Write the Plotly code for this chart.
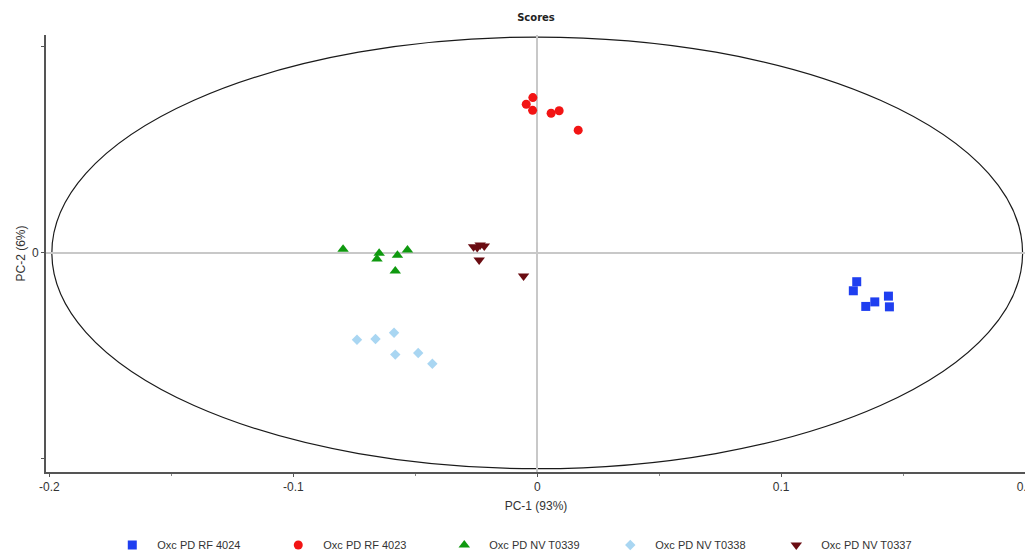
import plotly.graph_objects as go

# ---- data ----
series_names = ["Oxc PD RF 4024", "Oxc PD RF 4023", "Oxc PD NV T0339", "Oxc PD NV T0338", "Oxc PD NV T0337"]

rf4024_x = [0.1310, 0.1296, 0.1347, 0.1384, 0.1440, 0.1444]
rf4024_y = [-0.0070, -0.0092, -0.0130, -0.0119, -0.0105, -0.0131]

rf4023_x = [-0.0018, -0.0045, -0.0019, 0.0057, 0.0090, 0.0168]
rf4023_y = [0.0377, 0.0361, 0.0346, 0.0339, 0.0345, 0.0298]

t0339_x = [-0.0796, -0.0648, -0.0657, -0.0573, -0.0532, -0.0582]
t0339_y = [0.0009, -0.0001, -0.0015, -0.0006, 0.0007, -0.0044]

t0338_x = [-0.0739, -0.0663, -0.0587, -0.0582, -0.0488, -0.0430]
t0338_y = [-0.0211, -0.0209, -0.0194, -0.0247, -0.0243, -0.0269]

t0337_x = [-0.0261, -0.0246, -0.0234, -0.0217, -0.0238, -0.0056]
t0337_y = [0.0015, 0.0013, 0.0019, 0.0017, -0.0017, -0.0056]

x_ticks = [-0.2, -0.1, 0, 0.1, 0.2]
x_ticktext = ["-0.2", "-0.1", "0", "0.1", "0.2"]
y_ticks = [-0.05, 0, 0.05]
y_ticktext = ["", "0", ""]

ellipse_a = 0.199   # PC-1 semi-axis of Hotelling T2 ellipse
ellipse_b = 0.0524  # PC-2 semi-axis

colors = ["#1f3ff0", "#f21414", "#0f990f", "#a9d6f2", "#6a0c12"]
symbols = ["square", "circle", "triangle-up", "diamond", "triangle-down"]
sizes = [9, 9, 10, 8, 10]
xs = [rf4024_x, rf4023_x, t0339_x, t0338_x, t0337_x]
ys = [rf4024_y, rf4023_y, t0339_y, t0338_y, t0337_y]

fig = go.Figure()
for name, x, y, c, s, sz in zip(series_names, xs, ys, colors, symbols, sizes):
    fig.add_trace(go.Scatter(
        x=x, y=y, mode="markers", name=name,
        marker=dict(color=c, symbol=s, size=sz, line=dict(width=0)),
    ))

fig.add_shape(type="circle", xref="x", yref="y",
              x0=-ellipse_a, x1=ellipse_a, y0=-ellipse_b, y1=ellipse_b,
              line=dict(color="#1a1a1a", width=1.2), layer="below")

font_family = "Liberation Sans, Arial, sans-serif"

W, H = 1025, 545
fig.update_layout(
    width=W, height=H,
    margin=dict(l=38, r=7, t=27, b=81, autoexpand=False),
    paper_bgcolor="white", plot_bgcolor="white",
    font=dict(family=font_family, size=12, color="#333333"),
    title=dict(text="<b>Scores</b>", x=0.5, xref="paper", y=1 - 9 / H, yref="container",
               xanchor="center", yanchor="middle",
               font=dict(family="DejaVu Sans, sans-serif", size=10, color="#222222")),
    showlegend=True,
    legend=dict(orientation="h", x=0.486, xanchor="center", y=-0.167, yanchor="middle",
                font=dict(size=11, color="#333333"), entrywidth=111, entrywidthmode="pixels",
                itemwidth=40),
    xaxis=dict(
        range=[-0.2014, 0.2004], tickvals=x_ticks, ticktext=x_ticktext, automargin=False,
        ticklabeloverflow="allow",
        showgrid=False, zeroline=True, zerolinecolor="#c8c8c8", zerolinewidth=1.5,
        showline=True, linecolor="#555555", linewidth=2,
        ticks="outside", ticklen=3, tickcolor="#555555",
        minor=dict(ticks="outside", ticklen=2, tickcolor="#888888", dtick=0.05, tick0=0, showgrid=False),
        title=dict(text="PC-1 (93%)", standoff=8, font=dict(size=12)),
        tickfont=dict(size=12),
    ),
    yaxis=dict(
        range=[-0.0532, 0.0529], tickvals=y_ticks, ticktext=y_ticktext, automargin=False,
        showgrid=False, zeroline=True, zerolinecolor="#c8c8c8", zerolinewidth=1.5,
        showline=True, linecolor="#555555", linewidth=2,
        ticks="outside", ticklen=3, tickcolor="#555555",
        title=dict(text="PC-2 (6%)", standoff=4, font=dict(size=12)),
        tickfont=dict(size=12),
    ),
)

fig.write_html("out.html")
